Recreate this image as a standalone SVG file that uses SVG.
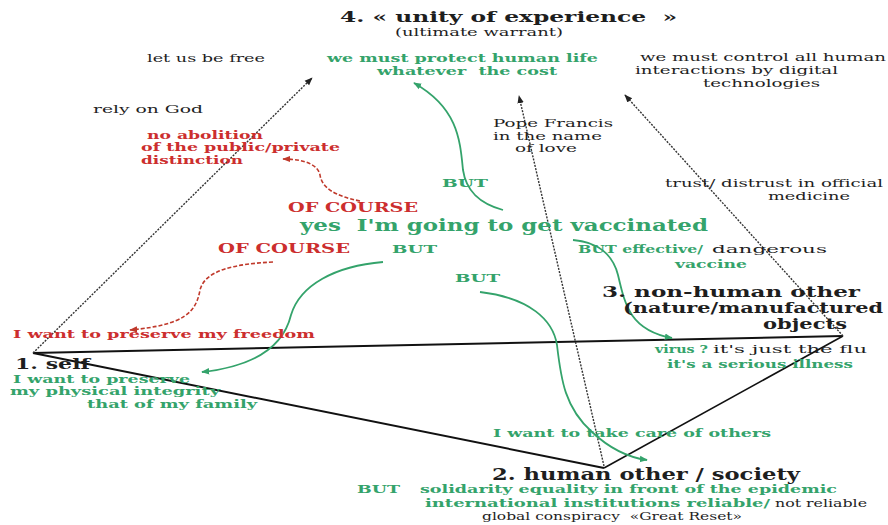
<svg xmlns="http://www.w3.org/2000/svg" width="888" height="525" viewBox="0 0 888 525">
<style>
text{font-family:"DejaVu Serif","Liberation Serif",serif}
.b{font-weight:bold}
.s{font-size:11px}
.m{font-size:12px}
.g{fill:#34a36b}
.red{fill:#cc2e2e}
.k{fill:#1e1e1e}
.tri{stroke:#111;fill:none}
.dot{stroke:#333;stroke-width:1.4;stroke-dasharray:2 1.3;fill:none}
.gc{stroke:#34a36b;stroke-width:1.8;fill:none}
.rc{stroke:#c0392b;stroke-width:1.6;stroke-dasharray:4 2;fill:none}
</style>
<defs>
<marker id="ak" viewBox="0 0 10 10" refX="9" refY="5" markerWidth="8" markerHeight="8" orient="auto" markerUnits="userSpaceOnUse"><path d="M0,1 L10,5 L0,9 z" fill="#222"/></marker>
<marker id="ag" viewBox="0 0 10 10" refX="9" refY="5" markerWidth="8" markerHeight="8" orient="auto" markerUnits="userSpaceOnUse"><path d="M0,1 L10,5 L0,9 z" fill="#34a36b"/></marker>
<marker id="ar" viewBox="0 0 10 10" refX="9" refY="5" markerWidth="8" markerHeight="8" orient="auto" markerUnits="userSpaceOnUse"><path d="M0,1 L10,5 L0,9 z" fill="#c0392b"/></marker>
</defs>
<rect width="888" height="525" fill="#fff"/>
<g id="connectors">
<line class="tri" x1="33" y1="353" x2="843" y2="336" stroke-width="2"/>
<line class="tri" x1="33" y1="353" x2="604" y2="468" stroke-width="2"/>
<line class="tri" x1="604" y1="468" x2="843" y2="336" stroke-width="1.6"/>
<line class="dot" x1="33" y1="353" x2="312" y2="78" marker-end="url(#ak)"/>
<line class="dot" x1="604" y1="466" x2="519" y2="96" marker-end="url(#ak)"/>
<line class="dot" x1="843" y1="336" x2="625" y2="95" marker-end="url(#ak)"/>
<path class="gc" d="M503,210 C478,203 466,190 463,170 C460,140 458,108 414,83" marker-end="url(#ag)"/>
<path class="rc" d="M360,201 C335,196 322,188 320,175 C318,165 305,159 283,159" marker-end="url(#ar)"/>
<path class="rc" d="M273,262 C235,264 205,270 200,290 C196,312 185,325 130,330" marker-end="url(#ar)"/>
<path class="gc" d="M383,262 C335,266 300,285 291,315 C285,340 265,365 202,372" marker-end="url(#ag)"/>
<path class="gc" d="M480,292 C530,298 553,320 557,345 C561,380 565,408 592,432 C608,447 625,457 647,460" marker-end="url(#ag)"/>
<path class="gc" d="M573,240 C598,242 613,255 618,275 C625,305 630,330 672,338" marker-end="url(#ag)"/>
</g>
<g id="node-unity">
<text class="b k" style="font-size:15px" x="340" y="22" textLength="337" lengthAdjust="spacingAndGlyphs">4. « unity of experience &#160;»</text>
<text class="s k" x="395" y="36" textLength="168" lengthAdjust="spacingAndGlyphs">(ultimate warrant)</text>
</g>
<g id="label-free"><text class="s k" x="147" y="62" textLength="118" lengthAdjust="spacingAndGlyphs">let us be free</text></g>
<g id="label-god"><text class="s k" x="93" y="113" textLength="110" lengthAdjust="spacingAndGlyphs">rely on God</text></g>
<g id="label-abolition">
<text class="s b red" x="147" y="139" textLength="116" lengthAdjust="spacingAndGlyphs">no abolition</text>
<text class="s b red" x="141" y="151" textLength="199" lengthAdjust="spacingAndGlyphs">of the public/private</text>
<text class="s b red" x="141" y="164" textLength="102" lengthAdjust="spacingAndGlyphs">distinction</text>
</g>
<g id="label-protect">
<text class="s b g" x="327" y="62" textLength="271" lengthAdjust="spacingAndGlyphs">we must protect human life</text>
<text class="s b g" x="377" y="75" textLength="180" lengthAdjust="spacingAndGlyphs">whatever &#160;the cost</text>
</g>
<g id="label-pope">
<text class="s k" x="493" y="127" textLength="120" lengthAdjust="spacingAndGlyphs">Pope Francis</text>
<text class="s k" x="493" y="140" textLength="109" lengthAdjust="spacingAndGlyphs">in the name</text>
<text class="s k" x="515" y="152" textLength="62" lengthAdjust="spacingAndGlyphs">of love</text>
</g>
<g id="label-control">
<text class="s k" x="640" y="61" textLength="246" lengthAdjust="spacingAndGlyphs">we must control all human</text>
<text class="s k" x="635" y="74" textLength="203" lengthAdjust="spacingAndGlyphs">interactions by digital</text>
<text class="s k" x="703" y="87" textLength="117" lengthAdjust="spacingAndGlyphs">technologies</text>
</g>
<g id="label-trust">
<text class="s k" x="665" y="187" textLength="218" lengthAdjust="spacingAndGlyphs">trust/ distrust in official</text>
<text class="s k" x="768" y="200" textLength="82" lengthAdjust="spacingAndGlyphs">medicine</text>
</g>
<g id="label-but1"><text class="s b g" x="442" y="187" textLength="46" lengthAdjust="spacingAndGlyphs">BUT</text></g>
<g id="label-course1"><text class="m b red" x="288" y="212" textLength="130" lengthAdjust="spacingAndGlyphs">OF COURSE</text></g>
<g id="node-vaccinated"><text class="b g" style="font-size:17px" x="300" y="231" textLength="408" lengthAdjust="spacingAndGlyphs">yes &#160;I'm going to get vaccinated</text></g>
<g id="label-course2"><text class="m b red" x="218" y="253" textLength="132" lengthAdjust="spacingAndGlyphs">OF COURSE</text></g>
<g id="label-but2"><text class="s b g" x="392" y="253" textLength="45" lengthAdjust="spacingAndGlyphs">BUT</text></g>
<g id="label-but3"><text class="s b g" x="455" y="282" textLength="45" lengthAdjust="spacingAndGlyphs">BUT</text></g>
<g id="label-effective">
<text class="s b g" x="578" y="253" textLength="125" lengthAdjust="spacingAndGlyphs">BUT effective/</text>
<text class="s k" x="712" y="253" textLength="115" lengthAdjust="spacingAndGlyphs">dangerous</text>
<text class="s b g" x="675" y="268" textLength="72" lengthAdjust="spacingAndGlyphs">vaccine</text>
</g>
<g id="node-nonhuman">
<text class="b k" style="font-size:14px" x="602" y="297" textLength="258" lengthAdjust="spacingAndGlyphs">3. non-human other</text>
<text class="b k" style="font-size:14px" x="623" y="313" textLength="260" lengthAdjust="spacingAndGlyphs">(nature/manufactured</text>
<text class="b k" style="font-size:14px" x="763" y="329" textLength="84" lengthAdjust="spacingAndGlyphs">objects</text>
</g>
<g id="label-freedom"><text class="s b red" x="13" y="338" textLength="302" lengthAdjust="spacingAndGlyphs">I want to preserve my freedom</text></g>
<g id="node-self">
<text class="b k" style="font-size:14px" x="15" y="369" textLength="75" lengthAdjust="spacingAndGlyphs">1. self</text>
<text class="s b g" x="13" y="383" textLength="177" lengthAdjust="spacingAndGlyphs">I want to preserve</text>
<text class="s b g" x="10" y="395" textLength="210" lengthAdjust="spacingAndGlyphs">my physical integrity</text>
<text class="s b g" x="87" y="408" textLength="170" lengthAdjust="spacingAndGlyphs">that of my family</text>
</g>
<g id="label-virus">
<text class="s b g" x="655" y="353" textLength="53" lengthAdjust="spacingAndGlyphs">virus ?</text>
<text class="s k" x="713" y="353" textLength="154" lengthAdjust="spacingAndGlyphs">it's just the flu</text>
<text class="s b g" x="667" y="368" textLength="186" lengthAdjust="spacingAndGlyphs">it's a serious illness</text>
</g>
<g id="label-care"><text class="s b g" x="493" y="437" textLength="278" lengthAdjust="spacingAndGlyphs">I want to take care of others</text></g>
<g id="node-human">
<text class="b k" style="font-size:17px" x="492" y="480" textLength="308" lengthAdjust="spacingAndGlyphs">2. human other / society</text>
<text class="s b g" x="357" y="493" textLength="43" lengthAdjust="spacingAndGlyphs">BUT</text>
<text class="s b g" x="420" y="493" textLength="417" lengthAdjust="spacingAndGlyphs">solidarity equality in front of the epidemic</text>
<text class="s b g" x="425" y="507" textLength="345" lengthAdjust="spacingAndGlyphs">international institutions reliable/</text>
<text class="s k" x="775" y="507" textLength="92" lengthAdjust="spacingAndGlyphs">not reliable</text>
<text class="s k" x="482" y="520" textLength="260" lengthAdjust="spacingAndGlyphs">global conspiracy &#160;«Great Reset»</text>
</g>
</svg>
